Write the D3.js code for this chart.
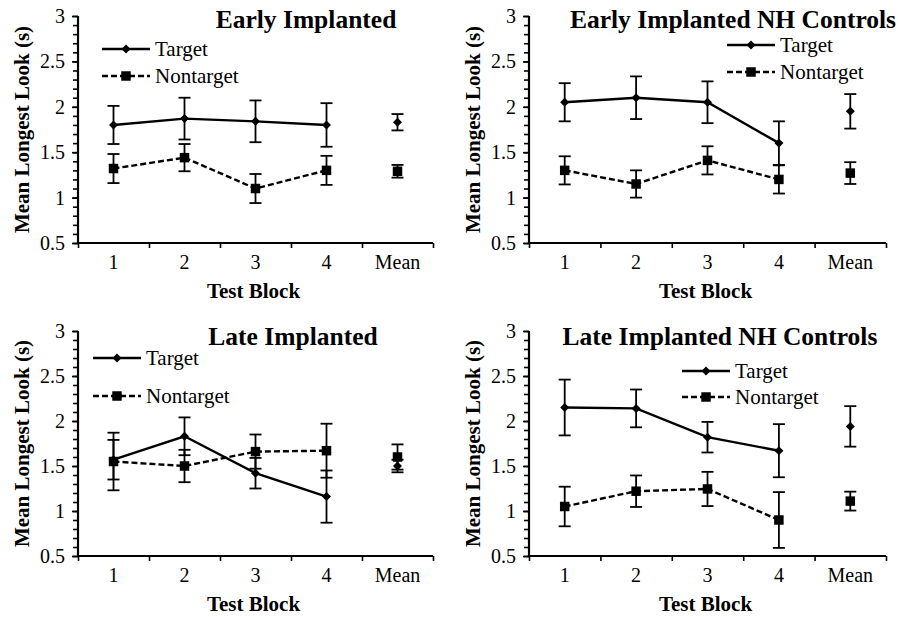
<!DOCTYPE html>
<html>
<head>
<meta charset="utf-8">
<script src="https://cdn.jsdelivr.net/npm/d3@7"></script>
<style>
  body { margin: 0; background: #fff; }
  svg { display: block; font-family: "Liberation Serif", "Times New Roman", serif; }
</style>
</head>
<body>
<div id="chart-area"></div>
<script>
// categories and tick labels
const blocks = ["1", "2", "3", "4", "Mean"]
const yTicks = [0.5, 1, 1.5, 2, 2.5, 3]
const titles = ["Early Implanted", "Early Implanted NH Controls", "Late Implanted", "Late Implanted NH Controls"]

// means and error (s) per block
const earlyTarget = [1.80, 1.87, 1.84, 1.80, 1.83]
const earlyTargetErr = [0.21, 0.23, 0.23, 0.24, 0.09]
const earlyNontarget = [1.32, 1.44, 1.10, 1.30, 1.29]
const earlyNontargetErr = [0.16, 0.15, 0.16, 0.16, 0.07]

const earlyNHTarget = [2.05, 2.10, 2.05, 1.60, 1.95]
const earlyNHTargetErr = [0.21, 0.235, 0.23, 0.24, 0.19]
const earlyNHNontarget = [1.30, 1.15, 1.41, 1.20, 1.27]
const earlyNHNontargetErr = [0.155, 0.15, 0.155, 0.155, 0.12]

const lateTarget = [1.57, 1.83, 1.42, 1.16, 1.50]
const lateTargetErr = [0.22, 0.21, 0.17, 0.29, 0.07]
const lateNontarget = [1.55, 1.50, 1.66, 1.67, 1.60]
const lateNontargetErr = [0.32, 0.18, 0.19, 0.30, 0.14]

const lateNHTarget = [2.15, 2.14, 1.82, 1.67, 1.94]
const lateNHTargetErr = [0.31, 0.21, 0.17, 0.295, 0.225]
const lateNHNontarget = [1.05, 1.22, 1.245, 0.90, 1.11]
const lateNHNontargetErr = [0.22, 0.175, 0.19, 0.31, 0.105]

const series = [
  [earlyTarget, earlyTargetErr, earlyNontarget, earlyNontargetErr],
  [earlyNHTarget, earlyNHTargetErr, earlyNHNontarget, earlyNHNontargetErr],
  [lateTarget, lateTargetErr, lateNontarget, lateNontargetErr],
  [lateNHTarget, lateNHTargetErr, lateNHNontarget, lateNHNontargetErr]
]

// panel placement on the page
const layout = [
  {left: 78, top: 16, w: 355, h: 227, titleX: 306, titleY: 28, legX: 102, legY: 49, legGap: 27},
  {left: 529, top: 16, w: 357, h: 227, titleX: 733, titleY: 28, legX: 727, legY: 45, legGap: 27},
  {left: 78, top: 331, w: 355, h: 225, titleX: 293, titleY: 345, legX: 93, legY: 358, legGap: 38},
  {left: 529, top: 331, w: 357, h: 225, titleX: 720, titleY: 345, legX: 682, legY: 371, legGap: 26}
]

const svg = d3.select("#chart-area").append("svg")
  .attr("width", 898)
  .attr("height", 617)

layout.forEach((L, i) => drawPanel(L, titles[i], series[i]))

function drawPanel (L, title, s) {
  const [tgt, tgtErr, non, nonErr] = s

  const g = svg.append("g")
    .attr("transform", `translate(${L.left}, ${L.top})`)

  const x = d3.scaleBand().domain(blocks).range([0, L.w])
  const xEdge = d3.scaleLinear().domain([0, blocks.length]).range([0, L.w])
  const y = d3.scaleLinear().domain([0.5, 3]).range([L.h, 0])
  const cx = d => x(d) + x.bandwidth() / 2

  // y axis: minor ticks every 0.1, labelled ticks every 0.5
  const minor = d3.range(5, 31).map(v => v / 10)
  g.append("g")
    .call(d3.axisLeft(y).tickValues(minor).tickSize(5).tickFormat(""))
    .call(a => a.select(".domain").remove())
    .selectAll("line").attr("stroke-width", 1.6)

  const yAxis = g.append("g")
    .call(d3.axisLeft(y).tickValues(yTicks).tickSize(6).tickPadding(7)
      .tickFormat(d => d3.format("")(d)))
  yAxis.select(".domain").attr("stroke-width", 2.2).attr("d", `M0,${L.h}V0`)
  yAxis.selectAll("line").attr("stroke-width", 1.6)
  yAxis.selectAll("text").attr("font-size", "20px").attr("fill", "#000")
    .attr("font-family", "Liberation Serif")

  // x axis: ticks at band edges, labels at band centres
  const xAxis = g.append("g")
    .attr("transform", `translate(0, ${L.h})`)
    .call(d3.axisBottom(xEdge).tickValues(d3.range(0, blocks.length + 1)).tickSize(5).tickFormat(""))
  xAxis.select(".domain").attr("stroke-width", 2.2).attr("d", `M0,0H${L.w}`)
  xAxis.selectAll("line").attr("stroke-width", 1.6)

  const xLabels = g.append("g")
    .attr("transform", `translate(0, ${L.h})`)
    .call(d3.axisBottom(x).tickSize(0).tickPadding(12))
  xLabels.select(".domain").remove()
  xLabels.selectAll("text").attr("font-size", "20px").attr("fill", "#000")
    .attr("font-family", "Liberation Serif")

  // axis titles
  g.append("text")
    .attr("x", L.w / 2 - 2)
    .attr("y", L.h + 55)
    .attr("text-anchor", "middle")
    .attr("font-size", "21px")
    .attr("font-weight", "bold")
    .text("Test Block")

  g.append("text")
    .attr("transform", "rotate(-90)")
    .attr("x", -L.h / 2)
    .attr("y", -49)
    .attr("text-anchor", "middle")
    .attr("font-size", "21px")
    .attr("font-weight", "bold")
    .text("Mean Longest Look (s)")

  // panel title
  svg.append("text")
    .attr("x", L.titleX)
    .attr("y", L.titleY)
    .attr("text-anchor", "middle")
    .attr("font-size", "25.5px")
    .attr("font-weight", "bold")
    .text(title)

  const defs = [
    {vals: tgt, errs: tgtErr, dash: null, sym: d3.symbolDiamond2, size: 52},
    {vals: non, errs: nonErr, dash: "6,3", sym: d3.symbolSquare, size: 90}
  ]

  // error bars
  defs.forEach(def => {
    const rows = blocks.map((b, j) => ({b, v: def.vals[j], e: def.errs[j]}))
    const eb = g.append("g").attr("stroke", "#000").attr("stroke-width", 1.8)
    eb.selectAll(".v").data(rows).enter().append("line")
      .attr("x1", d => cx(d.b)).attr("x2", d => cx(d.b))
      .attr("y1", d => y(d.v - d.e)).attr("y2", d => y(d.v + d.e))
    eb.selectAll(".top").data(rows).enter().append("line")
      .attr("x1", d => cx(d.b) - 6).attr("x2", d => cx(d.b) + 6)
      .attr("y1", d => y(d.v + d.e)).attr("y2", d => y(d.v + d.e))
    eb.selectAll(".bot").data(rows).enter().append("line")
      .attr("x1", d => cx(d.b) - 6).attr("x2", d => cx(d.b) + 6)
      .attr("y1", d => y(d.v - d.e)).attr("y2", d => y(d.v - d.e))
  })

  // lines over blocks 1-4 (mean stands alone), then markers
  defs.forEach(def => {
    const rows = blocks.map((b, j) => ({b, v: def.vals[j]}))
    const line = d3.line().x(d => cx(d.b)).y(d => y(d.v))
    g.append("path")
      .datum(rows.slice(0, 4))
      .attr("fill", "none")
      .attr("stroke", "#000")
      .attr("stroke-width", 2.4)
      .attr("stroke-dasharray", def.dash)
      .attr("d", line)
    g.selectAll(null).data(rows).enter().append("path")
      .attr("transform", d => `translate(${cx(d.b)}, ${y(d.v)})`)
      .attr("d", d3.symbol().type(def.sym).size(def.size))
      .attr("fill", "#000")
  })

  // legend
  defs.forEach((def, k) => {
    const ly = L.legY + k * L.legGap
    const lg = svg.append("g").attr("transform", `translate(${L.legX}, ${ly})`)
    lg.append("line")
      .attr("x1", 0).attr("x2", 48)
      .attr("stroke", "#000").attr("stroke-width", 2.4)
      .attr("stroke-dasharray", def.dash)
    lg.append("path")
      .attr("transform", "translate(24, 0)")
      .attr("d", d3.symbol().type(def.sym).size(def.size))
    lg.append("text")
      .attr("x", 53)
      .attr("y", 7)
      .attr("font-size", "21px")
      .text(k === 0 ? "Target" : "Nontarget")
  })
}
</script>
</body>
</html>
